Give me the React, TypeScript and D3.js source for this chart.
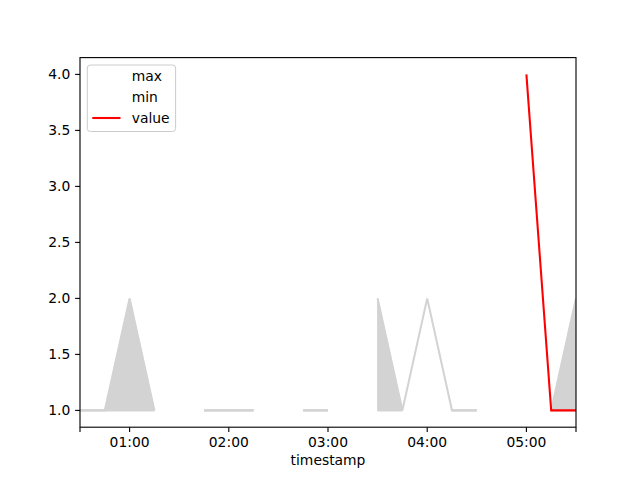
import React from "react";
import * as d3 from "d3";

const times = ["00:30","00:45","01:00","01:15","01:30","01:45","02:00","02:15","02:30","02:45","03:00","03:15","03:30","03:45","04:00","04:15","04:30","04:45","05:00","05:15","05:30"];
const maxVals = [1,1,2,1,NaN,1,1,1,NaN,1,1,NaN,2,1,2,1,1,NaN,NaN,1,2];
const minVals = [1,1,1,1,NaN,1,1,1,NaN,1,1,NaN,1,1,NaN,1,1,NaN,NaN,1,1];
const values = [NaN,NaN,NaN,NaN,NaN,NaN,NaN,NaN,NaN,NaN,NaN,NaN,NaN,NaN,NaN,NaN,NaN,NaN,4,1,1];
const yTicks = [1.0,1.5,2.0,2.5,3.0,3.5,4.0];
const xTickLabels = ["01:00","02:00","03:00","04:00","05:00"];
const xEdgeTicks = ["00:30","05:30"];
const legendLabels = ["max","min","value"];

const W = 640, H = 480;
const L = 80, R = 576, T = 57.6, B = 427.2;
const FONT = "'DejaVu Sans', sans-serif";
const FS = 13.89;
const TL = 4.86;

const parse = (s: string) => {
  const [h, m] = s.split(":").map(Number);
  return new Date(Date.UTC(2020, 0, 1, h, m));
};

export default function App() {
  const dates = times.map(parse);
  const x = d3.scaleUtc().domain([dates[0], dates[dates.length - 1]]).range([L, R]);
  const y = d3.scaleLinear().domain([0.85, 4.15]).range([B, T]);
  const data = dates.map((d, i) => ({ d, mx: maxVals[i], mn: minVals[i], v: values[i] }));

  const area = d3.area<any>()
    .defined(p => !isNaN(p.mx) && !isNaN(p.mn))
    .x(p => x(p.d)).y0(p => y(p.mn)).y1(p => y(p.mx));
  const lineMax = d3.line<any>().defined(p => !isNaN(p.mx)).x(p => x(p.d)).y(p => y(p.mx));
  const lineMin = d3.line<any>().defined(p => !isNaN(p.mn)).x(p => x(p.d)).y(p => y(p.mn));
  const lineV = d3.line<any>().defined(p => !isNaN(p.v)).x(p => x(p.d)).y(p => y(p.v));
  const fmt = d3.utcFormat("%H:%M");

  return (
    <svg width={W} height={H} style={{ display: "block", position: "absolute", left: 0, top: 0 }}>
      <rect width={W} height={H} fill="white" />
      <defs>
        <clipPath id="clip"><rect x={L} y={T} width={R - L} height={B - T} /></clipPath>
      </defs>
      <g clipPath="url(#clip)">
        <path d={area(data) || ""} fill="lightgrey" stroke="lightgrey" strokeWidth={1} />
        <path d={lineMax(data) || ""} fill="none" stroke="lightgrey" strokeWidth={2.08} />
        <path d={lineMin(data) || ""} fill="none" stroke="lightgrey" strokeWidth={2.08} />
        <path d={lineV(data) || ""} fill="none" stroke="red" strokeWidth={2.08} />
      </g>
      <rect x={L} y={T} width={R - L} height={B - T} fill="none" stroke="black" strokeWidth={1.11} />
      {yTicks.map(t => (
        <g key={t}>
          <line x1={L - TL} x2={L} y1={y(t)} y2={y(t)} stroke="black" strokeWidth={1.11} />
          <text x={L - TL - 4.86} y={y(t)} dy="0.35em" textAnchor="end" fontFamily={FONT} fontSize={FS}>{t.toFixed(1)}</text>
        </g>
      ))}
      {xTickLabels.map(t => {
        const px = x(parse(t));
        return (
          <g key={t}>
            <line x1={px} x2={px} y1={B} y2={B + TL} stroke="black" strokeWidth={1.11} />
            <text x={px} y={B + TL + 4.86} dy="0.76em" textAnchor="middle" fontFamily={FONT} fontSize={FS}>{fmt(parse(t))}</text>
          </g>
        );
      })}
      {xEdgeTicks.map(t => {
        const px = x(parse(t));
        return <line key={t} x1={px} x2={px} y1={B} y2={B + TL} stroke="black" strokeWidth={1.11} />;
      })}
      <text x={(L + R) / 2} y={465} textAnchor="middle" fontFamily={FONT} fontSize={FS}>timestamp</text>
      <g>
        <rect x={87.3} y={65} width={88.3} height={66.5} rx={3} fill="white" fillOpacity={0.8} stroke="#cccccc" strokeWidth={1} />
        {legendLabels.map((lab, i) => {
          const cy = 76 + i * 21;
          return (
            <g key={lab}>
              {lab === "value" && <line x1={92.3} x2={120.5} y1={cy} y2={cy} stroke="red" strokeWidth={2.08} />}
              <text x={131.7} y={cy} dy="0.35em" fontFamily={FONT} fontSize={FS}>{lab}</text>
            </g>
          );
        })}
      </g>
    </svg>
  );
}
